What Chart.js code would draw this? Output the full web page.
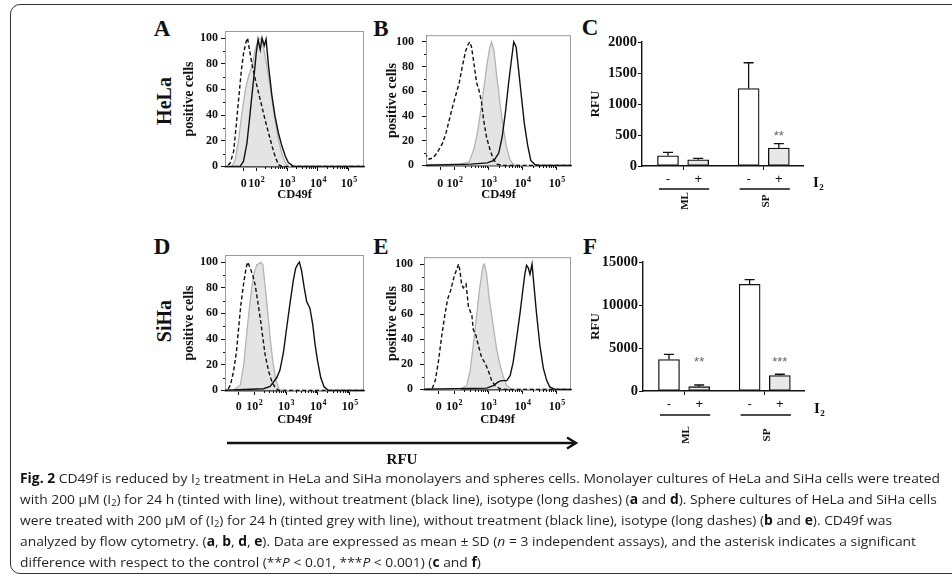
<!DOCTYPE html>
<html>
<head>
<meta charset="utf-8">
<script src="https://cdn.jsdelivr.net/npm/chart.js@4.4.1/dist/chart.umd.min.js"></script>
<style>
  html, body { margin: 0; padding: 0; background: #fff; }
  body { width: 952px; height: 577px; position: relative; overflow: hidden; font-family: 'Liberation Serif', 'Times New Roman', serif; }
  canvas { position: absolute; }
  .frame { position: absolute; left: 10px; top: 4px; width: 1000px; height: 568px; border: 1.4px solid #333; border-radius: 10px; }
  .lbl { position: absolute; font-weight: bold; color: #111; white-space: nowrap; line-height: 1; transform: translate(-50%, -50%); }
  .rot { transform: translate(-50%, -50%) rotate(-90deg); }
  .cap { position: absolute; left: 20px; height: 18px; line-height: 18px; font-family: 'Open Sans', sans-serif; font-size: 13.5px; color: #231f20; white-space: nowrap; transform-origin: 0 50%; }
  .cap b { font-weight: 700; color: #111; }
  .cap sub { font-size: 9px; vertical-align: -2px; line-height: 0; }
</style>
</head>
<body>
<div class="frame"></div>

<div class="lbl" style="left:162px;top:28px;font-size:23px">A</div>
<div class="lbl" style="left:381px;top:28px;font-size:23px">B</div>
<div class="lbl" style="left:590px;top:27px;font-size:23px">C</div>
<div class="lbl" style="left:162px;top:246px;font-size:23px">D</div>
<div class="lbl" style="left:381px;top:246px;font-size:23px">E</div>
<div class="lbl" style="left:590px;top:246px;font-size:23px">F</div>
<div class="lbl rot" style="left:164px;top:101px;font-size:20px">HeLa</div>
<div class="lbl rot" style="left:164px;top:321px;font-size:20px">SiHa</div>

<canvas id="histA"></canvas>
<canvas id="histB"></canvas>
<canvas id="barC"></canvas>
<canvas id="histD"></canvas>
<canvas id="histE"></canvas>
<canvas id="barF"></canvas>

<svg style="position:absolute;left:0;top:0" width="952" height="577">
  <line x1="227" y1="443" x2="574" y2="443" stroke="#111" stroke-width="2.6"/>
  <polyline points="567,437.5 576,443 567,448.5" fill="none" stroke="#111" stroke-width="2.4"/>
</svg>
<div class="lbl" style="left:402px;top:459px;font-size:15px">RFU</div>

<div class="cap" style="top:469px"><b>Fig. 2</b> CD49f is reduced by I<sub>2</sub> treatment in HeLa and SiHa monolayers and spheres cells. Monolayer cultures of HeLa and SiHa cells were treated</div>
<div class="cap" style="top:490px">with 200 µM (I<sub>2</sub>) for 24 h (tinted with line), without treatment (black line), isotype (long dashes) (<b>a</b> and <b>d</b>). Sphere cultures of HeLa and SiHa cells</div>
<div class="cap" style="top:511px">were treated with 200 µM of (I<sub>2</sub>) for 24 h (tinted grey with line), without treatment (black line), isotype (long dashes) (<b>b</b> and <b>e</b>). CD49f was</div>
<div class="cap" style="top:532px">analyzed by flow cytometry. (<b>a</b>, <b>b</b>, <b>d</b>, <b>e</b>). Data are expressed as mean ± SD (<i>n</i> = 3 independent assays), and the asterisk indicates a significant</div>
<div class="cap" style="top:553px">difference with respect to the control (**<i>P</i> &lt; 0.01, ***<i>P</i> &lt; 0.001) (<b>c</b> and <b>f</b>)</div>

<script>
// histogram curves: [log10 fluorescence, % of max]
const aIso = [[0.9,0],[1.05,0],[1.16,2.6],[1.27,11.7],[1.35,31],[1.43,52],[1.52,75],[1.59,88],[1.67,97],[1.72,100],[1.78,91],[1.86,80],[1.97,68],[2.08,57],[2.18,47],[2.29,36],[2.4,26],[2.51,16],[2.61,8],[2.72,1.3],[2.83,0],[5.6,0]];
const aI2 = [[0.9,0],[1.22,0],[1.32,5],[1.43,21],[1.54,42],[1.65,60],[1.75,70],[1.86,78],[1.97,91],[2.08,99],[2.18,100],[2.29,86],[2.4,70],[2.51,52],[2.61,36],[2.72,21],[2.83,10],[2.94,3],[3.04,0],[5.6,0]];
const aCtrl = [[0.9,0],[1.48,0],[1.59,4],[1.7,18],[1.78,36],[1.86,55],[1.94,73],[2.0,88],[2.06,99],[2.13,91],[2.19,100],[2.26,94],[2.32,99],[2.4,78],[2.51,55],[2.61,39],[2.72,26],[2.83,16],[2.94,8],[3.04,3],[3.2,0],[5.6,0]];

const bIso = [[1.1,9],[1.18,8],[1.26,5],[1.36,6],[1.46,9],[1.55,13],[1.65,18],[1.75,26],[1.84,36],[1.94,47],[2.04,57],[2.14,67],[2.23,80],[2.33,93],[2.4,98],[2.45,100],[2.5,96],[2.57,83],[2.65,67],[2.72,61],[2.79,52],[2.86,36],[2.94,23],[3.04,13],[3.14,5],[3.25,1],[3.4,0],[5.6,0]];
const bI2 = [[1.1,0.5],[2.18,1],[2.43,2.6],[2.57,13],[2.67,26],[2.77,44],[2.86,62],[2.96,83],[3.04,96],[3.09,100],[3.16,93],[3.23,75],[3.33,52],[3.43,31],[3.52,16],[3.62,5],[3.72,1],[3.83,0],[5.6,0]];
const bCtrl = [[1.1,0],[2.48,1],[2.96,2],[3.16,4],[3.3,10],[3.4,23],[3.5,44],[3.59,67],[3.67,85],[3.74,100],[3.81,96],[3.88,78],[3.96,57],[4.05,34],[4.15,16],[4.24,4],[4.37,0.5],[4.51,0],[5.6,0]];

const dIso = [[1.0,0],[1.15,0],[1.25,4],[1.35,15],[1.44,30],[1.51,49],[1.58,67],[1.67,84],[1.74,95],[1.79,100],[1.88,95],[1.96,89],[2.03,82],[2.11,69],[2.19,56],[2.27,41],[2.34,28],[2.45,15],[2.55,7],[2.66,2],[2.76,0],[5.6,0]];
const dI2 = [[1.0,0],[1.34,0],[1.56,4],[1.67,20],[1.77,46],[1.88,72],[1.98,90],[2.08,98],[2.16,99],[2.21,100],[2.27,98],[2.34,82],[2.42,62],[2.5,41],[2.58,23],[2.69,7],[2.79,0.5],[2.92,0],[5.6,0]];
const dCtrl = [[1.0,0],[2.29,1.3],[2.5,3],[2.71,10],[2.81,16],[2.92,30],[3.02,49],[3.13,69],[3.23,86],[3.3,95],[3.36,98],[3.42,100],[3.49,93],[3.57,80],[3.65,69],[3.75,64],[3.84,51],[3.91,36],[3.99,23],[4.09,10],[4.19,3],[4.32,0],[5.6,0]];

const eIso = [[1.0,0],[1.35,0],[1.45,7],[1.54,22],[1.64,43],[1.74,61],[1.81,72],[1.9,79],[2.0,90],[2.08,96],[2.13,100],[2.17,95],[2.22,84],[2.27,81],[2.35,84],[2.42,66],[2.52,59],[2.56,48],[2.64,43],[2.71,35],[2.81,25],[2.91,21],[3.0,15],[3.1,7],[3.2,3],[3.34,0.5],[3.54,0],[5.6,0]];
const eI2 = [[1.0,0],[2.17,0],[2.37,3],[2.47,15],[2.56,35],[2.66,59],[2.74,79],[2.81,92],[2.85,99],[2.89,100],[2.95,92],[3.03,72],[3.1,59],[3.17,46],[3.24,33],[3.34,20],[3.44,10],[3.54,3],[3.68,0],[5.6,0]];
const eCtrl = [[1.0,0],[2.95,1],[3.15,3],[3.29,6],[3.39,7],[3.54,7],[3.64,11],[3.73,22],[3.83,41],[3.93,61],[4.01,79],[4.07,92],[4.12,99],[4.17,97],[4.22,92],[4.28,100],[4.34,82],[4.41,61],[4.51,35],[4.61,17],[4.71,7],[4.8,2],[4.95,0],[5.6,0]];

const cellTicks = [0, 20, 40, 60, 80, 100];
const logExps = [2, 3, 4, 5];

// bar panels
const barCats = ['-', '+', '-', '+'];
const barGroups = ['ML', 'SP'];
const helaMean = [165, 100, 1250, 290];
const helaSd = [55, 22, 415, 70];
const helaSig = ['', '', '', '**'];
const sihaMean = [3650, 500, 12400, 1800];
const sihaSd = [600, 200, 550, 150];
const sihaSig = ['', '**', '', '***'];
const rfuTicksC = [0, 500, 1000, 1500, 2000];
const rfuTicksF = [0, 5000, 10000, 15000];

const fontSerif = "'Liberation Serif', 'Times New Roman', serif";
const fontSans = "'Liberation Sans', Arial, sans-serif";
const ink = '#111';

function place(cv, left, top, right, bottom) {
  left = Math.round(left); top = Math.round(top); right = Math.round(right); bottom = Math.round(bottom);
  cv.style.left = left + 'px';
  cv.style.top = top + 'px';
  cv.width = right - left;
  cv.height = bottom - top;
  return { left, top, right, bottom };
}

function histogram(id, g, iso, treated, ctrl) {
  const cv = document.getElementById(id);
  const box = place(cv, g.titleX - 8.4, g.t - 12, g.r + 8, g.capY + 7.2);

  const decor = {
    id: 'decor' + id,
    beforeDatasetsDraw(chart) {
      const a = chart.chartArea, c = chart.ctx;
      c.save();
      c.strokeStyle = '#9a9a9a';
      c.lineWidth = 1;
      c.strokeRect(a.left + 0.5, a.top + 0.5, a.right - a.left - 1, a.bottom - a.top);
      c.restore();
    },
    afterDraw(chart) {
      const xs = chart.scales.x, ys = chart.scales.y, c = chart.ctx, a = chart.chartArea;
      c.save();
      c.strokeStyle = ink;
      c.lineWidth = 1;
      c.beginPath();
      for (let v = 10; v < 100; v += 20) {
        const py = Math.round(ys.getPixelForValue(v)) + 0.5;
        c.moveTo(a.left - 2, py); c.lineTo(a.left, py);
      }
      for (let e = 2; e < 5; e++) {
        for (let k = 2; k < 10; k++) {
          const px = Math.round(xs.getPixelForValue(e + Math.log10(k))) + 0.5;
          c.moveTo(px, a.bottom); c.lineTo(px, a.bottom + 2);
        }
      }
      c.stroke();

      // tick labels 0, 10^2 ... 10^5
      c.fillStyle = ink;
      c.textBaseline = 'alphabetic';
      const base = a.bottom + g.tickBase;
      c.font = `bold 12px ${fontSerif}`;
      c.textAlign = 'center';
      c.fillText('0', xs.getPixelForValue(g.zero), base);
      c.textAlign = 'left';
      logExps.forEach(e => {
        const px = xs.getPixelForValue(e);
        c.font = `bold 12px ${fontSerif}`;
        const w1 = c.measureText('10').width;
        c.font = `bold 8px ${fontSerif}`;
        const w2 = c.measureText(String(e)).width;
        const x0 = px - (w1 + w2) / 2;
        c.font = `bold 12px ${fontSerif}`;
        c.fillText('10', x0, base);
        c.font = `bold 8px ${fontSerif}`;
        c.fillText(String(e), x0 + w1 + 0.5, base - 5.5);
      });
      c.restore();
    }
  };

  new Chart(cv, {
    type: 'line',
    data: {
      datasets: [
        { data: ctrl, borderColor: ink, borderWidth: 1.4, fill: false },
        { data: iso, borderColor: ink, borderWidth: 1.4, borderDash: [4, 2.5], fill: false },
        { data: treated, borderColor: '#b4b4b4', borderWidth: 1.3, backgroundColor: '#e4e4e4', fill: 'origin' }
      ]
    },
    options: {
      responsive: false,
      animation: false,
      events: [],
      layout: { padding: { top: g.t - box.top, right: box.right - g.r, left: 0, bottom: 0 } },
      elements: { point: { radius: 0 }, line: { tension: 0 } },
      plugins: { legend: { display: false }, tooltip: { enabled: false } },
      scales: {
        x: {
          type: 'linear', min: g.xMin, max: g.xMax,
          afterBuildTicks: s => { s.ticks = [g.zero, ...logExps].map(v => ({ value: v })); },
          afterFit: s => { s.height = box.bottom - g.b; },
          ticks: { display: false },
          grid: { drawOnChartArea: false, tickLength: 4, color: ink },
          border: { color: '#222', width: 1.3 },
          title: { display: true, text: 'CD49f', color: ink, padding: 0, font: { family: fontSerif, size: 12.5, weight: 'bold' } }
        },
        y: {
          min: -0.5, max: 105.5,
          afterBuildTicks: s => { s.ticks = cellTicks.map(v => ({ value: v })); },
          afterFit: s => { s.width = g.l - box.left; },
          ticks: { padding: g.gap - 4, color: ink, font: { family: fontSerif, size: 12, weight: 'bold' } },
          grid: { drawOnChartArea: false, tickLength: 4, color: ink },
          border: { color: '#444', width: 1 },
          title: { display: true, text: 'positive cells', color: ink, padding: 0, font: { family: fontSerif, size: 14, weight: 'bold' } }
        }
      }
    },
    plugins: [decor]
  });
}

function barPanel(id, g, mean, sd, sig, yTicks) {
  const cv = document.getElementById(id);
  const box = place(cv, g.titleX - 7.8, g.t - 16, 842, g.groupY + 12);
  const slots = [0.86, 1.86, 3.53, 4.53];
  const centers = [1.36, 4.03];
  const tickVals = [...slots, ...centers].sort((p, q) => p - q);

  const decor = {
    id: 'bars' + id,
    afterDatasetsDraw(chart) {
      const xs = chart.scales.x, ys = chart.scales.y, c = chart.ctx;
      c.save();
      c.strokeStyle = ink;
      c.lineWidth = 1.3;
      mean.forEach((m, i) => {
        const px = xs.getPixelForValue(slots[i]);
        const y0 = ys.getPixelForValue(m), y1 = ys.getPixelForValue(m + sd[i]);
        c.beginPath();
        c.moveTo(px, y0); c.lineTo(px, y1);
        c.moveTo(px - 5, y1); c.lineTo(px + 5, y1);
        c.stroke();
        if (sig[i]) {
          c.fillStyle = '#666';
          c.font = `13px ${fontSans}`;
          c.textAlign = 'center';
          c.textBaseline = 'middle';
          c.fillText(sig[i], px, ys.getPixelForValue(g.starLevel) + 3);
        }
      });
      c.restore();
    },
    afterDraw(chart) {
      const xs = chart.scales.x, c = chart.ctx, a = chart.chartArea;
      c.save();
      c.strokeStyle = ink;
      c.fillStyle = ink;
      c.lineWidth = 1.4;
      barGroups.forEach((name, j) => {
        const p1 = xs.getPixelForValue(slots[2 * j]), p2 = xs.getPixelForValue(slots[2 * j + 1]);
        c.beginPath();
        c.moveTo(p1 - 9, g.lineY - box.top); c.lineTo(p2 + 11, g.lineY - box.top);
        c.stroke();
        c.save();
        c.translate(xs.getPixelForValue(centers[j]) + 2, g.groupY - box.top);
        c.rotate(-Math.PI / 2);
        c.font = `bold 11px ${fontSerif}`;
        c.textAlign = 'center';
        c.textBaseline = 'middle';
        c.fillText(name, 0, 0);
        c.restore();
      });
      c.textBaseline = 'alphabetic';
      c.textAlign = 'left';
      c.font = `bold 15px ${fontSerif}`;
      const ix = a.right + 10;
      c.fillText('I', ix, g.i2Base - box.top);
      const wi = c.measureText('I').width;
      c.font = `bold 9px ${fontSerif}`;
      c.fillText('2', ix + wi + 0.5, g.i2Base - box.top + 3);
      c.restore();
    }
  };

  new Chart(cv, {
    type: 'bar',
    data: {
      datasets: [{
        data: mean.map((m, i) => ({ x: slots[i], y: m })),
        backgroundColor: barCats.map(k => (k === '+' ? '#e8e8e8' : '#ffffff')),
        borderColor: ink,
        borderWidth: 1.3,
        borderSkipped: false,
        barThickness: 21
      }]
    },
    options: {
      responsive: false,
      animation: false,
      events: [],
      layout: { padding: { top: g.t - box.top, right: box.right - g.r, left: 0, bottom: 0 } },
      plugins: { legend: { display: false }, tooltip: { enabled: false } },
      scales: {
        x: {
          type: 'linear', min: 0, max: 5.33, offset: false,
          afterBuildTicks: s => { s.ticks = tickVals.map(v => ({ value: v })); },
          afterFit: s => { s.height = box.bottom - g.b; },
          ticks: {
            padding: g.tickPad, color: ink, font: { family: fontSans, size: 13 },
            callback: v => { const i = slots.indexOf(v); return i >= 0 ? barCats[i] : ''; }
          },
          grid: {
            offset: false, drawOnChartArea: false, tickLength: 4,
            tickColor: ctx => (centers.includes(ctx.tick && ctx.tick.value) ? ink : 'rgba(0,0,0,0)')
          },
          border: { color: ink, width: 1.4 }
        },
        y: {
          min: 0, max: yTicks[yTicks.length - 1],
          afterBuildTicks: s => { s.ticks = yTicks.map(v => ({ value: v })); },
          afterFit: s => { s.width = g.l - box.left; },
          ticks: { padding: 1, color: ink, font: { family: fontSerif, size: 14.5, weight: 'bold' }, callback: v => String(v) },
          grid: { drawOnChartArea: false, tickLength: 4, color: ink },
          border: { color: ink, width: 1.4 },
          title: { display: true, text: 'RFU', color: ink, padding: 0, font: { family: fontSerif, size: 13, weight: 'bold' } }
        }
      }
    },
    plugins: [decor]
  });
}

histogram('histA', { l: 225, r: 364, t: 31, b: 167, xMin: 0.99, xMax: 5.49, zero: 1.6, gap: 7, titleX: 189, capY: 195, tickBase: 20 }, aIso, aI2, aCtrl);
histogram('histB', { l: 426, r: 571, t: 32, b: 166, xMin: 1.165, xMax: 5.42, zero: 1.58, gap: 12, titleX: 392.5, capY: 195, tickBase: 21 }, bIso, bI2, bCtrl);
histogram('histD', { l: 225, r: 364, t: 255, b: 391, xMin: 1.08, xMax: 5.45, zero: 1.51, gap: 7, titleX: 189, capY: 420, tickBase: 19 }, dIso, dI2, dCtrl);
histogram('histE', { l: 424, r: 571, t: 255, b: 390, xMin: 1.12, xMax: 5.42, zero: 1.55, gap: 11, titleX: 392.5, capY: 420, tickBase: 20 }, eIso, eI2, eCtrl);

barPanel('barC', { l: 642, r: 803, t: 42, b: 166, titleX: 596, tickPad: 1.5, lineY: 189, groupY: 201, i2Base: 187, starLevel: 520 }, helaMean, helaSd, helaSig, rfuTicksC);
barPanel('barF', { l: 643, r: 804, t: 262, b: 391, titleX: 596, tickPad: 2, lineY: 415, groupY: 435, i2Base: 413, starLevel: 3670 }, sihaMean, sihaSd, sihaSig, rfuTicksF);

// fit caption lines to the column width
const caps = document.querySelectorAll('.cap');
const k = 920 / caps[0].getBoundingClientRect().width;
caps.forEach(el => { el.style.transform = `scaleX(${k})`; });
</script>
</body>
</html>
